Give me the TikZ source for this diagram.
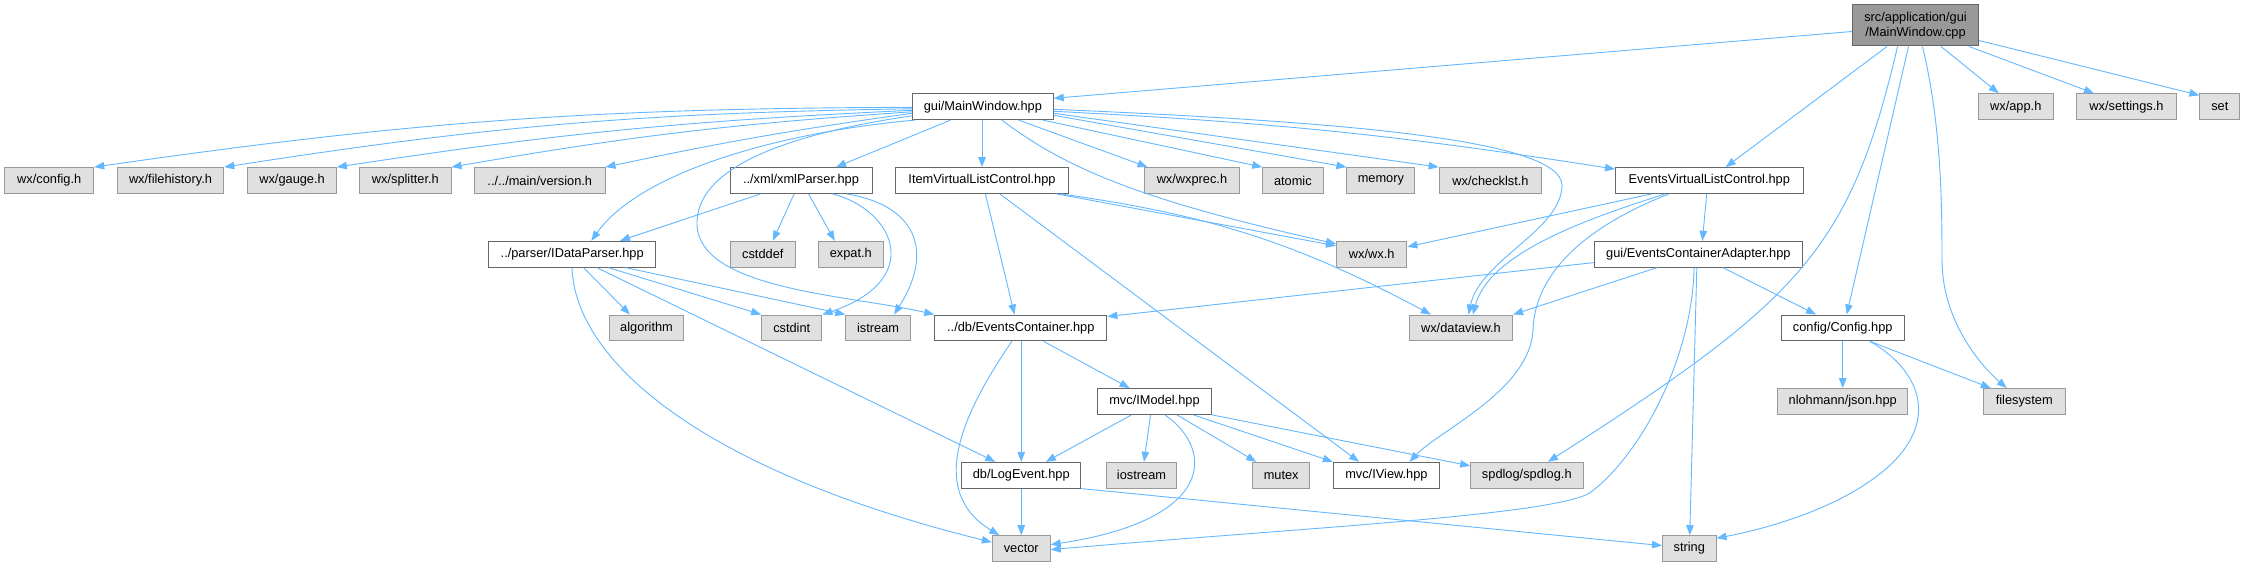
\documentclass[tikz,border=0pt]{standalone}
\usepackage{fontspec}
\setmainfont{Liberation Sans}
\usetikzlibrary{arrows.meta,calc}
\definecolor{edgec}{HTML}{63B8FF}
\definecolor{gfill}{HTML}{E0E0E0}
\definecolor{gdraw}{HTML}{999999}
\definecolor{wdraw}{HTML}{666666}
\definecolor{rfill}{HTML}{999999}
\tikzset{
  basebox/.style={rectangle, inner sep=0pt, minimum height=25.8pt, line width=1pt, text=black,
    font=\fontsize{12.8}{14.5}\selectfont},
  wnode/.style={basebox, draw=wdraw, fill=white},
  gnode/.style={basebox, draw=gdraw, fill=gfill},
  rnode/.style={basebox, draw=wdraw, fill=rfill, align=center},
  edge/.style={draw=edgec, line width=0.9pt, -{Triangle[length=10pt,width=7.5pt]}}
}
\begin{document}
\begin{tikzpicture}[x=1pt,y=-1pt]
\fill[white] (0,0) rectangle (2245,567);
\useasboundingbox (0,0) rectangle (2245,567);
% root
\node[rnode, minimum width=126pt, minimum height=41pt] (cpp) at (1915.5,25.5) {src/application/gui\\/MainWindow.cpp};
% row 1
\node[wnode, minimum width=140.6pt] (mwh) at (982.9,106.7) {gui/MainWindow.hpp};
\node[gnode, minimum width=74.5pt] (app) at (2015.75,106.7) {wx/app.h};
\node[gnode, minimum width=99.3pt] (settings) at (2126.45,106.7) {wx/settings.h};
\node[gnode, minimum width=39.9pt] (set) at (2219.85,106.7) {set};
% row 2
\node[gnode, minimum width=88.9pt] (config) at (49.25,180.5) {wx/config.h};
\node[gnode, minimum width=106.6pt] (filehistory) at (170.5,180.5) {wx/filehistory.h};
\node[gnode, minimum width=88.5pt] (gauge) at (292.05,180.5) {wx/gauge.h};
\node[gnode, minimum width=91.3pt] (splitter) at (405.35,180.5) {wx/splitter.h};
\node[gnode, minimum width=130.5pt] (version) at (539.75,180.5) {../../main/version.h};
\node[wnode, minimum width=142pt] (xml) at (801,180.5) {../xml/xmlParser.hpp};
\node[wnode, minimum width=172.2pt] (itemvlc) at (982,180.5) {ItemVirtualListControl.hpp};
\node[gnode, minimum width=95.7pt] (wxprec) at (1191.95,180.5) {wx/wxprec.h};
\node[gnode, minimum width=60.3pt] (atomic) at (1292.85,180.5) {atomic};
\node[gnode, minimum width=67.9pt] (memory) at (1380.85,180.5) {memory};
\node[gnode, minimum width=102.6pt] (checklst) at (1490.5,180.5) {wx/checklst.h};
\node[wnode, minimum width=187.6pt] (evlc) at (1709.3,180.5) {EventsVirtualListControl.hpp};
% row 3
\node[wnode, minimum width=167.4pt] (idataparser) at (572.2,254.2) {../parser/IDataParser.hpp};
\node[gnode, minimum width=64.6pt] (cstddef) at (762.8,254.2) {cstddef};
\node[gnode, minimum width=64.6pt] (expat) at (850.8,254.2) {expat.h};
\node[gnode, minimum width=70.4pt] (wxh) at (1371.7,254.2) {wx/wx.h};
\node[wnode, minimum width=208.1pt] (eca) at (1698.35,254.2) {gui/EventsContainerAdapter.hpp};
% row 4
\node[gnode, minimum width=74.1pt] (algorithm) at (646.55,327.9) {algorithm};
\node[gnode, minimum width=60.3pt] (cstdint) at (791.75,327.9) {cstdint};
\node[gnode, minimum width=64.6pt] (istream) at (878.1,327.9) {istream};
\node[wnode, minimum width=172.2pt] (evcontainer) at (1020.8,327.9) {../db/EventsContainer.hpp};
\node[gnode, minimum width=103.4pt] (dataview) at (1460.9,327.9) {wx/dataview.h};
\node[wnode, minimum width=123.4pt] (configHpp) at (1842.7,327.9) {config/Config.hpp};
% row 5
\node[wnode, minimum width=113.9pt] (imodel) at (1154.45,401.5) {mvc/IModel.hpp};
\node[gnode, minimum width=130pt] (json) at (1842.7,401.5) {nlohmann/json.hpp};
\node[gnode, minimum width=81.6pt] (filesystem) at (2024.2,401.5) {filesystem};
% row 6
\node[wnode, minimum width=119.1pt] (logevent) at (1021.25,475.2) {db/LogEvent.hpp};
\node[gnode, minimum width=70.8pt] (iostream) at (1141.5,475.2) {iostream};
\node[gnode, minimum width=57.4pt] (mutex) at (1281.2,475.2) {mutex};
\node[wnode, minimum width=106.2pt] (iview) at (1386.4,475.2) {mvc/IView.hpp};
\node[gnode, minimum width=112.4pt] (spdlog) at (1526.8,475.2) {spdlog/spdlog.h};
% row 7
\node[gnode, minimum width=57.9pt] (vector) at (1021.25,548.6) {vector};
\node[gnode, minimum width=53.5pt] (string) at (1689.25,548.6) {string};

% ---- edges from cpp
\draw[edge] ([yshift=-27pt]cpp.north west) -- ([yshift=-5pt]mwh.north east);
\draw[edge] ([xshift=-28.5pt]cpp.south) -- ([xshift=16.4pt]evlc.north);
\draw[edge] ([xshift=25.5pt]cpp.south) -- ([xshift=-17pt]app.north);
\draw[edge] ([xshift=-10pt]cpp.south east) -- ([xshift=-32.5pt]settings.north);
\draw[edge] ([yshift=-36pt]cpp.north east) -- ([yshift=-2pt]set.north west);
\draw[edge] ([xshift=-18pt]cpp.south) .. controls (1850,250) and (1800,300) .. ([xshift=21.2pt]spdlog.north);
\draw[edge] ([xshift=-7pt]cpp.south) -- ([xshift=4pt]configHpp.north);
\draw[edge] ([xshift=7pt]cpp.south) .. controls (1940,120) and (1942,190) .. (1942,260) .. controls (1942,320) and (1980,365) .. ([xshift=-17.5pt]filesystem.north);

% ---- edges from gui/MainWindow.hpp
\draw[edge] ([yshift=-14pt]mwh.north west) to[bend right=4] (config.north east);
\draw[edge] ([yshift=-15.5pt]mwh.north west) to[bend right=4] (filehistory.north east);
\draw[edge] ([yshift=-17pt]mwh.north west) to[bend right=3] (gauge.north east);
\draw[edge] ([yshift=-18.5pt]mwh.north west) to[bend right=3] (splitter.north east);
\draw[edge] ([yshift=-20pt]mwh.north west) to[bend right=2] (version.north east);
\draw[edge] ([yshift=-22.5pt]mwh.north west) .. controls (780,135) and (695,170) .. (697,225) .. controls (700,290) and (850,295) .. (evcontainer.north west);
\draw[edge] ([xshift=3pt]mwh.south west) .. controls (780,132) and (640,172) .. ([xshift=19.1pt]idataparser.north);
\draw[edge] ([xshift=38.5pt]mwh.south west) -- ([xshift=35pt]xml.north);
\draw[edge] ([xshift=-0.9pt]mwh.south) -- (itemvlc.north);
\draw[edge] ([xshift=19pt]mwh.south) .. controls (1065,168) and (1140,200) .. ([yshift=-3pt]wxh.north west);
\draw[edge] ([xshift=-35pt]mwh.south east) -- ([xshift=4pt]wxprec.north west);
\draw[edge] ([xshift=-11pt]mwh.south east) -- (atomic.north west);
\draw[edge] ([yshift=-22pt]mwh.north east) -- (memory.north west);
\draw[edge] ([yshift=-20pt]mwh.north east) -- (checklst.north west);
\draw[edge] ([yshift=-18pt]mwh.north east) to[bend left=3] ([yshift=-2pt]evlc.north west);
\draw[edge] ([yshift=-16pt]mwh.north east) .. controls (1350,122) and (1560,140) .. (1562,185) .. controls (1562,230) and (1480,260) .. ([xshift=7.6pt]dataview.north);

% ---- edges from ../xml/xmlParser.hpp
\draw[edge] ([xshift=31pt]xml.south west) -- ([xshift=47.8pt]idataparser.north);
\draw[edge] ([xshift=64.6pt]xml.south west) -- ([xshift=10pt]cstddef.north);
\draw[edge] ([xshift=79pt]xml.south west) -- ([xshift=-16pt]expat.north);
\draw[edge] ([xshift=103pt]xml.south west) .. controls (895,210) and (925,280) .. (cstdint.north east);
\draw[edge] ([xshift=117pt]xml.south west) .. controls (915,205) and (935,250) .. ([xshift=16pt]istream.north);

% ---- edges from ItemVirtualListControl.hpp
\draw[edge] ([xshift=90pt]itemvlc.south west) -- ([xshift=-6.3pt]evcontainer.north);
\draw[edge] ([xshift=104.4pt]itemvlc.south west) -- ([xshift=-27.4pt]iview.north);
\draw[edge] ([xshift=-12pt]itemvlc.south east) -- ([yshift=-5pt]wxh.north west);
\draw[edge] ([xshift=-8pt]itemvlc.south east) to[bend left=10] ([xshift=-30pt]dataview.north);

% ---- edges from EventsVirtualListControl.hpp
\draw[edge] ([xshift=36.7pt]evlc.south west) -- ([yshift=-6pt]wxh.north east);
\draw[edge] ([xshift=50pt]evlc.south west) .. controls (1600,215) and (1490,250) .. ([xshift=12pt]dataview.north);
\draw[edge] ([xshift=54pt]evlc.south west) .. controls (1590,225) and (1535,270) .. (1533,330) .. controls (1530,390) and (1440,430) .. ([xshift=23pt]iview.north);
\draw[edge] ([xshift=91.7pt]evlc.south west) -- ([xshift=4pt]eca.north);

% ---- edges from ../parser/IDataParser.hpp
\draw[edge] ([xshift=84pt]idataparser.south west) .. controls (575,360) and (700,470) .. ([yshift=-7pt]vector.north west);
\draw[edge] ([xshift=95.5pt]idataparser.south west) -- ([xshift=-16.6pt]algorithm.north);
\draw[edge] ([xshift=108.8pt]idataparser.south west) -- ([xshift=-26pt]logevent.north);
\draw[edge] ([xshift=120.3pt]idataparser.south west) -- (cstdint.north west);
\draw[edge] ([xshift=137.5pt]idataparser.south west) -- (istream.north west);

% ---- edges from ../db/EventsContainer.hpp
\draw[edge] ([xshift=22.7pt]evcontainer.south) -- ([xshift=-24.8pt]imodel.north);
\draw[edge] ([xshift=0.45pt]evcontainer.south) -- (logevent.north);
\draw[edge] ([xshift=-9pt]evcontainer.south) .. controls (965,410) and (925,490) .. ([xshift=-22pt]vector.north);

% ---- edges from mvc/IModel.hpp
\draw[edge] ([xshift=34.5pt]imodel.south west) -- ([xshift=24.6pt]logevent.north);
\draw[edge] ([xshift=53.5pt]imodel.south west) -- ([xshift=2.5pt]iostream.north);
\draw[edge] ([xshift=68pt]imodel.south west) .. controls (1215,450) and (1215,520) .. ([yshift=4pt]vector.east);
\draw[edge] ([xshift=80pt]imodel.south west) -- ([xshift=-25pt]mutex.north);
\draw[edge] ([xshift=96.5pt]imodel.south west) -- (iview.north west);
\draw[edge] (imodel.south east) -- ([yshift=-4pt]spdlog.north west);

% ---- edges from db/LogEvent.hpp
\draw[edge] (logevent.south) -- (vector.north);
\draw[edge] (logevent.south east) -- ([yshift=3pt]string.west);

% ---- edges from gui/EventsContainerAdapter.hpp
\draw[edge] ([yshift=5pt]eca.south west) -- ([yshift=-2pt]evcontainer.north east);
\draw[edge] ([xshift=63.3pt]eca.south west) -- (dataview.north east);
\draw[edge] ([xshift=100.3pt]eca.south west) .. controls (1692,360) and (1640,455) .. (1591,492) .. controls (1560,515) and (1300,528) .. ([yshift=-1pt]vector.east);
\draw[edge] ([xshift=103pt]eca.south west) -- ([xshift=0.5pt]string.north);
\draw[edge] ([xshift=129pt]eca.south west) -- ([xshift=-26.7pt]configHpp.north);

% ---- edges from config/Config.hpp
\draw[edge] (configHpp.south) -- (json.north);
\draw[edge] ([xshift=-35pt]configHpp.south east) -- ([xshift=-33.4pt]filesystem.north);
\draw[edge] ([xshift=-35pt]configHpp.south east) .. controls (1920,370) and (1940,420) .. (1888,467) .. controls (1840,510) and (1760,530) .. ([yshift=-3pt]string.north east);
\end{tikzpicture}
\end{document}
